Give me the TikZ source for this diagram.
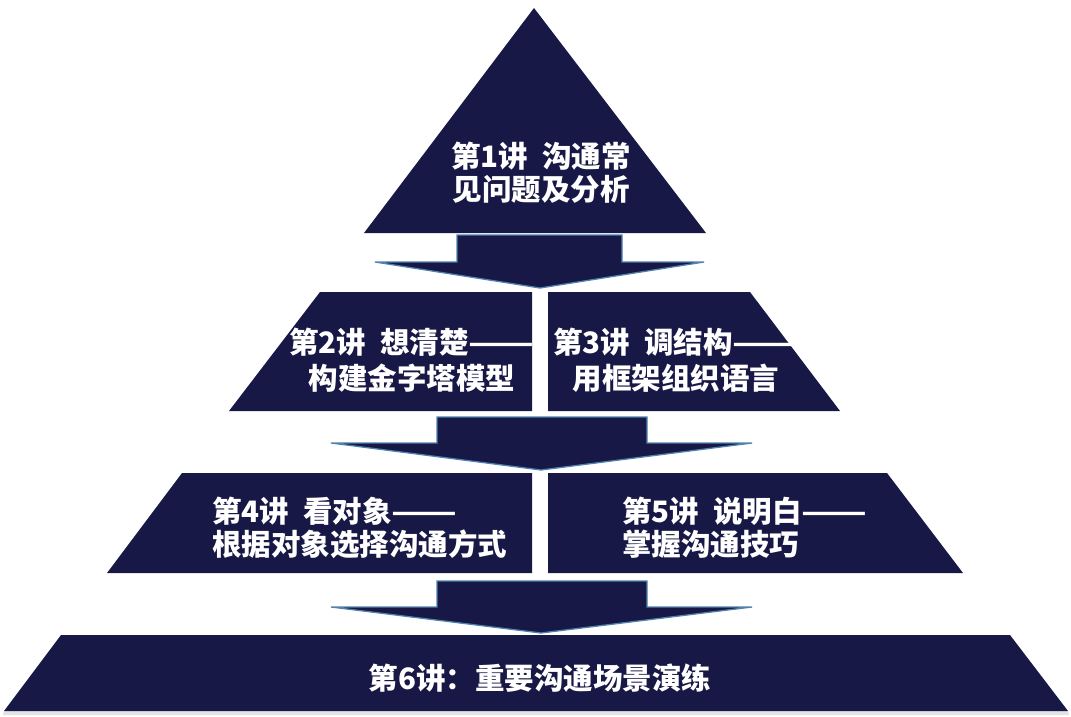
\documentclass[tikz,border=0pt]{standalone}
\usepackage{fontspec}
\newfontfamily\cjk{Noto Sans CJK SC}
\definecolor{navy}{RGB}{24,24,70}
\definecolor{edgeblue}{RGB}{80,130,175}
\newcommand{\longdash}{\scalebox{1.3}[1]{——}}
\begin{document}
\begin{tikzpicture}[x=1pt,y=-1pt,
  block/.style={fill=navy},
  downarrow/.style={fill=navy,draw=edgeblue,line width=1.3pt,line join=miter},
  lbl/.style={text=white,inner sep=0pt,font=\cjk\bfseries\fontsize{29.5}{33}\selectfont},
  lblwide/.style={lbl,font=\cjk\bfseries\fontsize{29.5}{36}\selectfont}]
\useasboundingbox (0,0) rectangle (1071,717);
\fill[white] (0,0) rectangle (1071,717);
% pyramid blocks
\path[block] (534,8) -- (706,233) -- (364,233) -- cycle;
\path[block] (320,292) -- (532,292) -- (532,411) -- (229,411) -- cycle;
\path[block] (548,292) -- (750,292) -- (840,411) -- (548,411) -- cycle;
\path[block] (182,473) -- (532,473) -- (532,573) -- (107,573) -- cycle;
\path[block] (548,473) -- (887,473) -- (963,573) -- (548,573) -- cycle;
\fill[gray!22] (4,711) -- (1068,711) -- (1069,715) -- (3,715) -- cycle;
\path[block] (61,635) -- (1010,635) -- (1068,711) -- (4,711) -- cycle;
% arrows
\path[downarrow] (457,235) -- (622,235) -- (622,262) -- (704,262) -- (540,288) -- (375,262) -- (457,262) -- cycle;
\path[downarrow] (437,417) -- (647,417) -- (647,443) -- (752,443) -- (541,470) -- (331,443) -- (437,443) -- cycle;
\path[downarrow] (437,581) -- (647,581) -- (647,607) -- (752,607) -- (541,633) -- (331,607) -- (437,607) -- cycle;
% labels
\node[lbl,align=center] (l1) at (541,173) {第1讲\hspace{14pt}沟通常\\见问题及分析};
\node[lblwide,align=center] (l2) at (412,360) {第2讲\hspace{14pt}想清楚\longdash\\构建金字塔模型};
\node[lblwide,align=center] (l3) at (676,360) {第3讲\hspace{14pt}调结构\longdash\\用框架组织语言};
\node[lbl,align=left,anchor=west] (l4) at (212,528) {第4讲\hspace{14pt}看对象\longdash\\根据对象选择沟通方式};
\node[lbl,align=left,anchor=west] (l5) at (622,528) {第5讲\hspace{14pt}说明白\longdash\\掌握沟通技巧};
\node[lbl] (l6) at (540,678) {第6讲：重要沟通场景演练};
\end{tikzpicture}
\end{document}
